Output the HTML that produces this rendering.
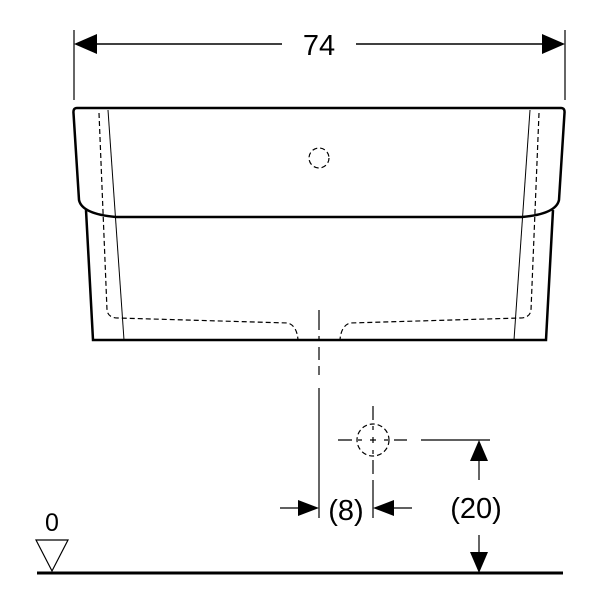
<!DOCTYPE html>
<html><head><style>body{margin:0;background:#fff}svg{display:block}</style></head><body>
<svg width="600" height="600" viewBox="0 0 600 600" xmlns="http://www.w3.org/2000/svg" font-family="Liberation Sans, sans-serif">
<g stroke="#000" fill="none">
<line x1="74" y1="30" x2="74" y2="100" stroke-width="1.2"/>
<line x1="565" y1="30" x2="565" y2="100" stroke-width="1.2"/>
<line x1="96" y1="44" x2="282" y2="44" stroke-width="1.5"/>
<line x1="356" y1="44" x2="543" y2="44" stroke-width="1.5"/>
<path d="M77,108 L561,108 Q565,108 564.5,113 L559,200 Q556,214 522,217 L116,217 Q82,214 79,200 L73.5,113 Q73,108 77,108 Z" stroke-width="2.5"/>
<path d="M86,210 L93,340 L546,340 L553,210" stroke-width="2.5"/>
<line x1="108" y1="110" x2="124" y2="340" stroke-width="1"/>
<line x1="530" y1="110" x2="514" y2="340" stroke-width="1"/>
<g stroke-dasharray="5,3" stroke-width="1.2">
<path d="M99,113 L107,310 Q108,318 118,318 L288,323 Q297,326 298,340"/>
<path d="M539,113 L531,310 Q530,318 520,318 L350,323 Q341,326 340,340"/>
<circle cx="319" cy="158" r="10"/>
<circle cx="373" cy="440" r="16"/>
</g>
<path d="M319,310 V330 M319,336 V341 M319,347 V360 M319,366 V375" stroke-width="1.2"/>
<line x1="319" y1="388" x2="319" y2="518" stroke-width="1.2"/>
<path d="M338,440 H352 M358,440 H362 M384,440 H388 M394,440 H407 M373,406 V420 M373,426 V430 M373,450 V454 M373,460 V474 M370,440 H376 M373,437 V443" stroke-width="1.2"/>
<line x1="373" y1="480" x2="373" y2="518" stroke-width="1.2"/>
<line x1="421" y1="440" x2="490" y2="440" stroke-width="1.2"/>
<line x1="280" y1="508" x2="300" y2="508" stroke-width="1.2"/>
<line x1="392" y1="508" x2="412" y2="508" stroke-width="1.2"/>
<line x1="479" y1="460" x2="479" y2="480" stroke-width="1.2"/>
<line x1="479" y1="535" x2="479" y2="555" stroke-width="1.2"/>
<line x1="37" y1="573" x2="563" y2="573" stroke-width="3"/>
<path d="M36,540 L68,540 L52,571 Z" stroke-width="1.2"/>
</g>
<g fill="#000">
<path d="M74,44 L97,34 L97,54 Z"/>
<path d="M565,44 L542,34 L542,54 Z"/>
<path d="M319,508 L298,500 L298,516 Z"/>
<path d="M373,508 L394,500 L394,516 Z"/>
<path d="M479,440 L470,461 L488,461 Z"/>
<path d="M479,573 L470,552 L488,552 Z"/>
</g>
<g font-size="29" text-anchor="middle" fill="#000">
<text x="319" y="55">74</text>
<text x="346" y="520">(8)</text>
<text x="476" y="518">(20)</text>
<text x="52" y="531" font-size="25">0</text>
</g>
</svg>
</body></html>
